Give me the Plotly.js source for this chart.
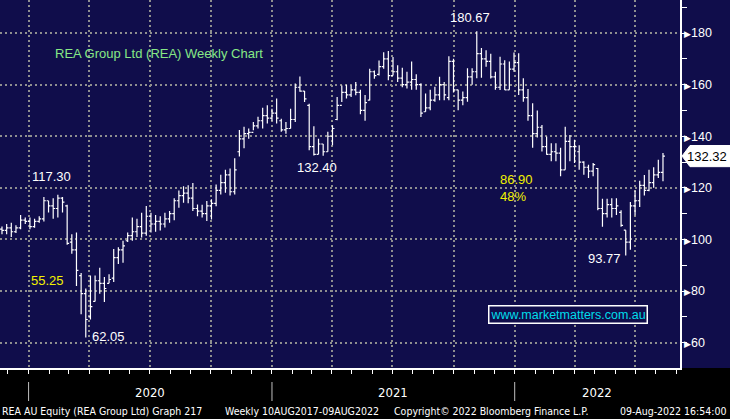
<!DOCTYPE html>
<html>
<head>
<meta charset="utf-8">
<script src="https://cdn.plot.ly/plotly-3.0.1.min.js"></script>
<style>
  html, body { margin: 0; padding: 0; background: #000; }
  #chart { width: 730px; height: 419px; }
</style>
</head>
<body>
<div id="chart"></div>
<script>
// ---- Data (weekly bars, week ending Friday, first bar 22-Nov-2019) ----
const firstWeek = '2019-11-22';
const weeklyOpen = [
 104,103.5,104.5,103,104.5,107.5,107,105,107,108,
 115,113,112,116,113,99,96,86,79,70,
 76,84,83,83,85,93,96,99.5,101.5,103,
 105,102.5,109,106,107,106,108,110,115,117,
 118,116,112,111,110,113,114,119,122,125,
 118.5,134,139,141,141.5,144,146,148,147,149,
 146,142.5,143,146.5,159,157.5,152,136,133,137,
 134,140,146.5,152,157,156,158,157,150,154,
 165,164,167,170,163.5,165,162.5,160,161,162,
 160,149.5,151,154,156,160,155,169,158,154,
 155,163,165,172,170,169,163,159,168,158,
 166,168.5,158,155,148,141,143.5,136,133,134,
 133.5,127,138,136,134,130,128,126.5,127.5,112,
 110,113.5,112,110.5,103.6,99,113,115,121,119,
 122,125,126
];
const weeklyHigh = [
 105,106,106.5,105.5,109.5,108.5,108.5,108,109,116.5,
 115,116,117.3,116.5,113.5,102,102.7,87,81,86,
 86,89,85.5,86.5,96.3,97,99.5,102.7,108.5,108,
 110.4,113,110.4,109.5,109,110.4,111,116,119,120.6,
 121,121.9,113.6,113.5,114.9,115.6,121.3,125.1,127,127.5,
 131.5,142.4,143.7,143,145.5,147.6,151,152,150.7,154.6,
 146.8,145.5,150.7,160.4,163.2,157.5,152.6,143.9,139,137,
 141.7,144.3,155.2,159.7,160,159.7,161,158,156,166.2,
 165.5,169.4,172.6,173,170.7,167.5,166.5,165,169,164,
 160.5,156.6,158,159.2,163.1,161,171,170,158,157.3,
 166.4,166.4,180.67,174.2,173.3,172,165,170.8,169.5,169,
 172.5,172.2,162.5,158.3,152.8,150,144.4,139.9,137.3,137.3,
 135.5,143.7,140.5,138.6,136.5,130.3,129,129.6,127.7,115.8,
 115.8,116,116,111.3,103.6,114.5,119,122.8,125,127,
 128,130.9,133.5
];
const weeklyLow = [
 102,102,101,102.5,104,106,104,104.5,106.5,107,
 110.5,108,108.5,110.5,98,94.5,82,71,62.05,69,
 76,79,75.8,83,83.5,90.5,91,99,99.5,101,
 100.8,101.4,102.7,103,103.5,104.6,106.5,107.5,112.3,114.2,
 114,111,109,108.5,107.2,107.7,112.9,117.4,118.1,117,
 117.4,132.2,135.4,139,142.3,143,143,144.9,146,144.9,
 141.7,141,143,145.5,157.2,153.3,134.6,132.5,133,132.4,
 134,136.5,146.2,153.3,154.6,155.2,155.9,148.5,146,153.9,
 162.3,163.5,166.2,161.7,163.5,161,159,158.5,158,158,
 147.5,149.5,150.1,153.4,154,154,154,157,150.1,152,
 153.4,160,162.5,162.7,166.9,162.4,158,157.9,157.9,158,
 165,156,153.4,146,135.5,139.5,134.1,132.8,130.3,130.3,
 124.5,127,130.3,129.6,127,125.1,123.8,124.5,111.3,104.9,
 108.5,108.5,109.5,104.9,93.77,96,109.4,112.6,117,118.7,
 120,123.8,122.6
];
const weeklyClose = [
 103.5,104.5,103,104.5,107.5,107,105,107,108,115,
 113,112,116,114.5,98.5,96,88,79,69,74,
 84,83,81,84.5,93,96,97.5,101.5,103,105,
 102.5,109,106,107,106,108,110,115,117,118,
 116,112,111,110,113,114,119,122,125,118.5,
 127,139,141,141.5,144,146,148,147,149,147,
 142.5,143,146.5,159,157.5,154.5,136,133,137,134,
 140,143,152,157,156,158,157,150,153,165,
 163.5,167,170,163.5,165,162.5,160,161,162,160,
 149,151,154,156,160,156,169,158,154,155,
 163,165,172,170,169,163,159,168,158,166,
 168.5,158,155,148,141,143.5,136,133,134,133.5,
 127,138,136,136,130,128,126.5,129,112,110,
 113.5,112,113,105.5,99,113,115,121,119,122,
 125,126,132.32
];
const yTickValues = [60, 80, 100, 120, 140, 160, 180];
const yearLabels = ['2020', '2021', '2022'];
const lastPriceLabel = '132.32';
const chartTitle = 'REA Group Ltd (REA) Weekly Chart';
const pointLabels = [
  {text: '117.30', color: 'white'},
  {text: '55.25', color: 'yellow'},
  {text: '62.05', color: 'white'},
  {text: '132.40', color: 'white'},
  {text: '180.67', color: 'white'},
  {text: '86.90', color: 'yellow'},
  {text: '48%', color: 'yellow'},
  {text: '93.77', color: 'white'}
];
const websiteText = 'www.marketmatters.com.au';
const footerParts = [
  'REA AU Equity (REA Group Ltd) Graph 217',
  'Weekly 10AUG2017-09AUG2022',
  'Copyright\u00A9 2022 Bloomberg Finance L.P.',
  '09-Aug-2022 16:54:00'
];

// ---- Build ----
function addDays(iso, n) {
  const d = new Date(iso + 'T00:00:00Z');
  d.setUTCDate(d.getUTCDate() + n);
  return d.toISOString().slice(0, 10);
}
const weekDates = weeklyClose.map((_, i) => addDays(firstWeek, 7 * i));

const W = 730, H = 419, PW = 680, PH = 368;
const px = x => x / PW;            // pixel -> paper x
const py = y => 1 - y / PH;        // pixel -> paper y

const NAVY = '#100d4b';
const textFont = 'Liberation Sans, Arial, sans-serif';
const narrowFont = 'Liberation Sans Narrow, DejaVu Sans Condensed, Arial Narrow, sans-serif';
const colorMap = {white: '#ffffff', yellow: '#f2f200'};

const xRange = ['2019-11-19', '2022-09-06 14:24'];
const yRange = [50.2, 192.8];

const trace = {
  type: 'ohlc',
  x: weekDates,
  open: weeklyOpen, high: weeklyHigh, low: weeklyLow, close: weeklyClose,
  increasing: {line: {color: '#ffffff', width: 1.2}},
  decreasing: {line: {color: '#ffffff', width: 1.2}},
  tickwidth: 0.42,
  hoverinfo: 'skip'
};

const labelPos = [
  [32, 176], [31, 280], [92, 336], [297, 167], [450, 17], [500, 180], [500, 196], [588, 258]
];

const annotations = [];
annotations.push({
  xref: 'paper', yref: 'paper', x: px(53), y: py(54), xanchor: 'left', yanchor: 'middle',
  text: chartTitle, showarrow: false, font: {family: textFont, size: 13, color: '#86e886'}
});
pointLabels.forEach((p, i) => {
  annotations.push({
    xref: 'paper', yref: 'paper', x: px(labelPos[i][0] - 2), y: py(labelPos[i][1]),
    xanchor: 'left', yanchor: 'middle', text: p.text, showarrow: false,
    font: {family: textFont, size: 13, color: colorMap[p.color]}
  });
});
annotations.push({
  xref: 'paper', yref: 'paper', x: px(488), y: py(314), xanchor: 'left', yanchor: 'middle',
  text: websiteText, showarrow: false, bgcolor: NAVY, bordercolor: '#ffffff', borderwidth: 1.5, borderpad: 1,
  font: {family: textFont, size: 12.5, color: '#00dcea'}
});
// last price label
annotations.push({
  xref: 'paper', yref: 'y', x: px(729), y: weeklyClose[weeklyClose.length - 1], xanchor: 'right', yanchor: 'middle',
  text: lastPriceLabel, showarrow: false, font: {family: textFont, size: 13, color: '#000000'}
});
// year labels centred on visible part of each year
const r0 = new Date(xRange[0].replace(' ', 'T') + 'Z').getTime();
const r1 = new Date(xRange[1].replace(' ', 'T') + 'Z').getTime();
yearLabels.forEach(y => {
  const a = Math.max(r0, Date.UTC(+y, 0, 1));
  const b = Math.min(r1, Date.UTC(+y + 1, 0, 1));
  const mid = new Date((a + b) / 2).toISOString().slice(0, 19).replace('T', ' ');
  annotations.push({
    xref: 'x', yref: 'paper', x: mid, y: py(393), xanchor: 'center', yanchor: 'middle',
    text: y, showarrow: false, font: {family: narrowFont, size: 13, color: '#ffffff'}
  });
});
// footer
const footerX = [1, 224, 393, 728];
const footerAnchor = ['left', 'left', 'left', 'right'];
footerParts.forEach((t, i) => {
  annotations.push({
    xref: 'paper', yref: 'paper', x: px(footerX[i]), y: py(411), xanchor: footerAnchor[i], yanchor: 'middle',
    text: t, showarrow: false, borderpad: 0, font: {family: narrowFont, size: 10.5, color: '#ffffff'}
  });
});

const shapes = [];
// navy strip right of the plot (price-axis area)
shapes.push({type: 'rect', xref: 'paper', yref: 'paper', x0: 1, x1: W / PW, y0: 0, y1: 1,
  fillcolor: NAVY, line: {width: 0}, layer: 'below'});
// year separators in the bottom band
yearLabels.forEach(y => {
  shapes.push({type: 'line', xref: 'x', yref: 'paper', x0: y + '-01-01', x1: y + '-01-01',
    y0: py(382), y1: py(401), line: {color: '#bfbfbf', width: 1}});
});
// last price tag
const lc = weeklyClose[weeklyClose.length - 1];
const hh = 4.1;
shapes.push({type: 'path', xref: 'paper', yref: 'y',
  path: `M ${px(682)},${lc} L ${px(690)},${lc + hh} L ${px(730)},${lc + hh} L ${px(730)},${lc - hh} L ${px(690)},${lc - hh} Z`,
  fillcolor: '#ffffff', line: {color: '#ffffff', width: 1}});

const layout = {
  width: W, height: H,
  margin: {l: 0, r: W - PW, t: 0, b: H - PH, pad: 0},
  paper_bgcolor: '#000000',
  plot_bgcolor: NAVY,
  showlegend: false,
  hovermode: false,
  dragmode: false,
  xaxis: {
    type: 'date', range: xRange,
    rangeslider: {visible: false},
    dtick: 'M3', tick0: '2020-01-01',
    showgrid: true, gridcolor: '#8f8f8f', gridwidth: 2, griddash: '2px,3px',
    ticks: 'outside', ticklen: 4, tickcolor: '#ffffff', tickwidth: 1,
    minor: {dtick: 'M1', ticks: 'outside', ticklen: 4, tickcolor: '#ffffff', tickwidth: 1, showgrid: false},
    showticklabels: false,
    showline: true, linecolor: '#ffffff', linewidth: 2,
    zeroline: false, fixedrange: true
  },
  yaxis: {
    side: 'right', range: yRange,
    tickmode: 'array', tickvals: yTickValues,
    ticktext: yTickValues.map(v => '<span style="font-size:9px">\u25B6</span>' + v),
    ticks: '',
    tickfont: {family: textFont, size: 12.5, color: '#ffffff'},
    minor: {dtick: 10, tick0: 60, ticks: 'outside', ticklen: 5, tickcolor: '#ffffff', tickwidth: 1, showgrid: false},
    showgrid: true, gridcolor: '#8f8f8f', gridwidth: 2, griddash: '2px,3px',
    showline: true, linecolor: '#ffffff', linewidth: 1.5,
    zeroline: false, fixedrange: true
  },
  annotations: annotations,
  shapes: shapes
};

Plotly.newPlot('chart', [trace], layout, {displayModeBar: false, staticPlot: true});
</script>
</body>
</html>
